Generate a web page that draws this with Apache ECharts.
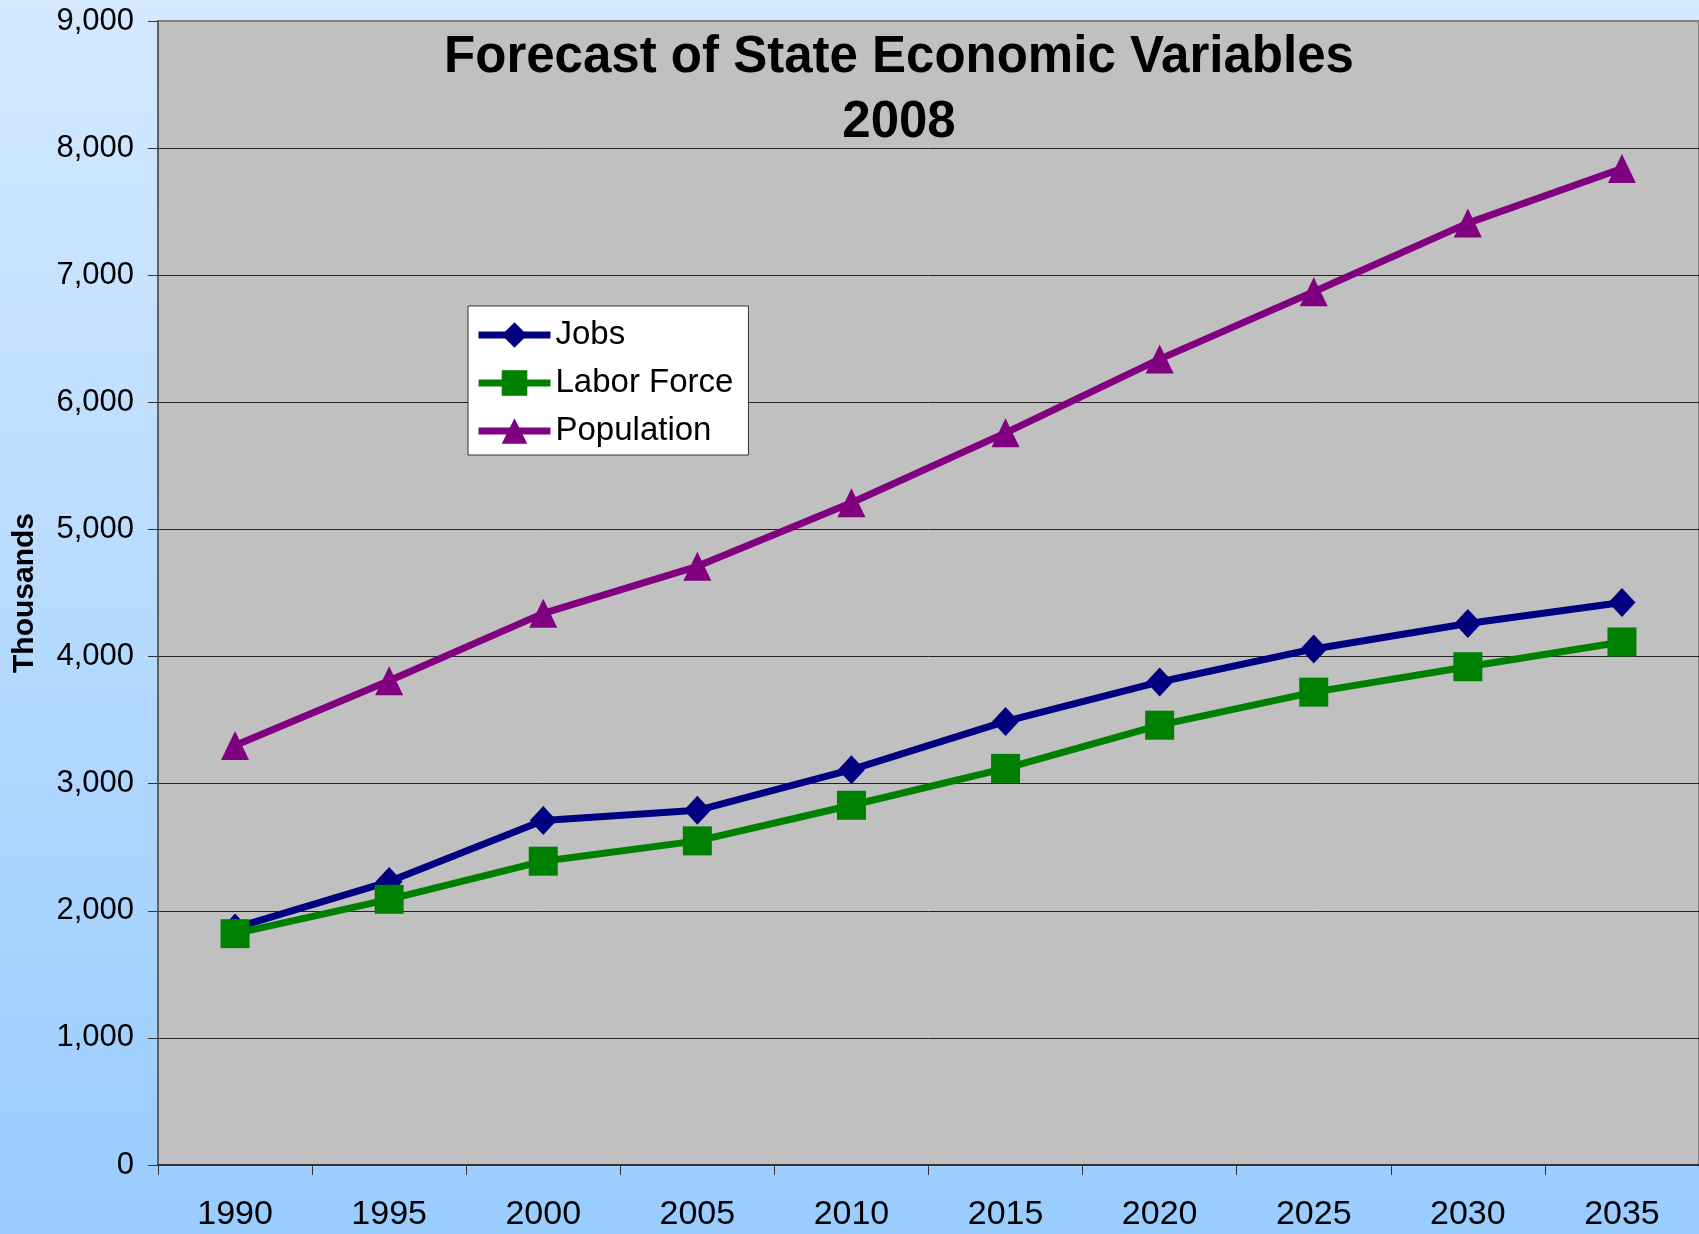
<!DOCTYPE html>
<html>
<head>
<meta charset="utf-8">
<script src="https://cdn.jsdelivr.net/npm/echarts@6/dist/echarts.min.js"></script>
<style>
html,body{margin:0;padding:0;}
#chart{width:1699px;height:1234px;}
</style>
</head>
<body>
<div id="chart"></div>
<script>
var years = ['1990','1995','2000','2005','2010','2015','2020','2025','2030','2035'];
var jobs = [1865, 2230, 2710, 2790, 3110, 3490, 3800, 4060, 4260, 4425];
var laborForce = [1820, 2090, 2390, 2550, 2830, 3120, 3460, 3720, 3920, 4115];
var population = [3300, 3810, 4340, 4710, 5210, 5760, 6340, 6870, 7410, 7840];
var titleText = 'Forecast of State Economic Variables\n2008';
var yName = 'Thousands';

var FONT = '"Liberation Sans", Arial, sans-serif';
var chart = echarts.init(document.getElementById('chart'));
chart.setOption({
  animation: false,
  backgroundColor: {
    type: 'linear', x: 0, y: 0, x2: 0, y2: 1,
    colorStops: [{offset: 0, color: '#D4E9FF'}, {offset: 1, color: '#99CCFF'}]
  },
  title: {
    text: titleText,
    left: 899,
    top: 25,
    padding: 0,
    textAlign: 'center',
    textStyle: {fontFamily: FONT, fontSize: 51, fontWeight: 'bold', lineHeight: 65, color: '#000'}
  },
  legend: {
    orient: 'vertical',
    left: 468,
    top: 306,
    padding: [12, 15, 7, 7],
    itemGap: 14,
    itemWidth: 72,
    itemHeight: 32,
    backgroundColor: '#FFFFFF',
    borderColor: '#333333',
    borderWidth: 1,
    borderRadius: 0,
    lineStyle: {width: 7},
    textStyle: {fontFamily: FONT, fontSize: 33, lineHeight: 34, color: '#000'},
    data: ['Jobs', 'Labor Force', 'Population']
  },
  grid: {
    left: 158, right: 0, top: 21, bottom: 69,
    show: true,
    backgroundColor: '#C0C0C0',
    borderColor: '#808080',
    borderWidth: 2
  },
  xAxis: {
    type: 'category',
    data: years,
    boundaryGap: true,
    axisLine: {lineStyle: {color: '#333', width: 2}},
    axisTick: {show: true, length: 10, lineStyle: {color: '#333', width: 1}},
    axisLabel: {fontFamily: FONT, fontSize: 34, color: '#000', margin: 33},
    splitLine: {show: false}
  },
  yAxis: {
    type: 'value',
    min: 0, max: 9000, interval: 1000,
    name: yName,
    nameLocation: 'middle',
    nameRotate: 90,
    nameGap: 118,
    nameTextStyle: {fontFamily: FONT, fontSize: 30, fontWeight: 'bold', color: '#000'},
    axisLine: {show: true, lineStyle: {color: '#606060', width: 2}},
    axisTick: {show: true, length: 10, lineStyle: {color: '#333', width: 1}},
    axisLabel: {
      fontFamily: FONT, fontSize: 31, color: '#000', margin: 24,
      formatter: function (v) { return v.toLocaleString('en-US'); }
    },
    splitLine: {show: true, showMinLine: false, showMaxLine: false, lineStyle: {color: '#222', width: 1}}
  },
  series: [
    {
      name: 'Jobs', type: 'line', data: jobs,
      symbol: 'diamond', symbolSize: [27, 29],
      lineStyle: {color: '#000080', width: 7},
      itemStyle: {color: '#000080'}
    },
    {
      name: 'Labor Force', type: 'line', data: laborForce,
      symbol: 'rect', symbolSize: 29,
      lineStyle: {color: '#008000', width: 7},
      itemStyle: {color: '#008000'}
    },
    {
      name: 'Population', type: 'line', data: population,
      symbol: 'triangle', symbolSize: [28, 29],
      lineStyle: {color: '#800080', width: 7},
      itemStyle: {color: '#800080'}
    }
  ]
});
</script>
</body>
</html>
